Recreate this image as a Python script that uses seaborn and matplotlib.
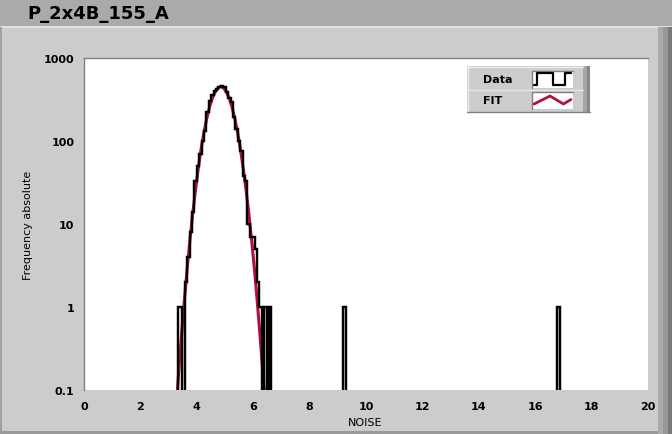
import numpy as np
import matplotlib
matplotlib.use("Agg")
import matplotlib.pyplot as plt
from matplotlib.patches import Rectangle
import seaborn as sns

# ---------------- data ----------------
title = "P_2x4B_155_A"
x_label = "NOISE"
y_label = "Frequency absolute"

# histogram: left edge of each non-empty bin and its count
bin_left = [3.321, 3.406, 3.577, 3.662, 3.747, 3.832, 3.917, 4.003, 4.088,
            4.173, 4.258, 4.343, 4.429, 4.514, 4.599, 4.684, 4.769, 4.855,
            4.940, 5.025, 5.110, 5.195, 5.281, 5.366, 5.451, 5.536, 5.621,
            5.707, 5.792, 5.877, 5.962, 6.047, 6.133, 6.218, 6.388, 6.559,
            9.200, 16.783]
counts = [1, 1, 2, 4, 8, 14, 33, 50, 70,
          100, 133, 223, 305, 360, 400, 424, 450, 465,
          445, 386, 330, 292, 193, 139, 100, 76, 38,
          33, 10, 7, 7, 5, 2, 1, 1, 1,
          1, 1]
bin_width = 0.0852

# Gaussian fit curve (read values)
fit_x = [3.25, 3.35, 3.45, 3.55, 3.65, 3.75, 3.85, 3.95, 4.05, 4.15, 4.25, 4.35,
         4.45, 4.55, 4.65, 4.75, 4.85, 4.95, 5.05, 5.15, 5.25, 5.35, 5.45,
         5.55, 5.65, 5.75, 5.85, 5.95, 6.05, 6.15, 6.25, 6.35, 6.45]
fit_y = [0.05, 0.15, 0.42, 1.1, 2.7, 6.1, 12.9, 25, 46, 79, 125, 185,
         255, 327, 390, 434, 455, 434, 390, 327, 255, 185, 125,
         79, 46, 25, 12.9, 6.1, 2.7, 1.1, 0.42, 0.15, 0.05]

x_ticks = [0, 2, 4, 6, 8, 10, 12, 14, 16, 18, 20]
y_ticks = [0.1, 1, 10, 100, 1000]
y_tick_labels = ["0.1", "1", "10", "100", "1000"]
legend_labels = ["Data", "FIT"]

# ---------------- style ----------------
sns.set_style("white")
plt.rcParams["font.family"] = ["DejaVu Sans"]

W, H = 672, 435
fig = plt.figure(figsize=(W / 100, H / 100), dpi=100)
fig.patch.set_facecolor("#cccccc")

# background / frame decoration (pixel coordinates)
bg = fig.add_axes([0, 0, 1, 1], zorder=0)
bg.set_xlim(0, W)
bg.set_ylim(H, 0)
bg.axis("off")
bg.add_patch(Rectangle((0, 0), W, 27, facecolor="#aaaaaa", edgecolor="none"))
bg.add_patch(Rectangle((0, 27), W, 1.5, facecolor="#e0e0e0", edgecolor="none"))
bg.add_patch(Rectangle((0, 28), 1.5, 404, facecolor="#a0a0a0", edgecolor="none"))
bg.add_patch(Rectangle((0, 432), W, 3, facecolor="#9a9a9a", edgecolor="none"))
bg.add_patch(Rectangle((658, 28), 5, 407, facecolor="#ababab", edgecolor="none"))
bg.add_patch(Rectangle((663, 28), 5, 407, facecolor="#999999", edgecolor="none"))
bg.add_patch(Rectangle((668, 28), 4, 407, facecolor="#7a7a7a", edgecolor="none"))
bg.text(27, 14, title, fontsize=13, fontweight="bold", ha="left", va="center",
        color="black")
bg.text(28, 225, y_label, fontsize=8, rotation=90, ha="center", va="center",
        color="black")
bg.text(365.5, 423, x_label, fontsize=8, ha="center", va="center", color="black")

# main plot axes
left, right, top, bottom = 84, 648, 59, 391
ax = fig.add_axes([left / W, 1 - bottom / H, (right - left) / W, (bottom - top) / H],
                  zorder=1)
ax.set_facecolor("white")

edges = [round(3.321 + k * bin_width, 4) for k in range(-1, 163)]
centers = [b + bin_width / 2 for b in bin_left]

sns.lineplot(x=fit_x, y=fit_y, color="#b5103c", linewidth=2.2, ax=ax,
             estimator=None, sort=False, zorder=2)
sns.histplot(x=centers, weights=counts, bins=edges, element="step", fill=False,
             color="black", linewidth=1.75, ax=ax, zorder=3)
for ln in ax.lines:
    ln.set_solid_joinstyle("miter")

ax.set_yscale("log")
ax.set_xlim(0, 20)
ax.set_ylim(0.1, 1000)
ax.set_xticks(x_ticks)
ax.set_xticklabels([str(t) for t in x_ticks])
ax.set_yticks(y_ticks)
ax.set_yticklabels(y_tick_labels)
ax.minorticks_off()
ax.set_xlabel("")
ax.set_ylabel("")
ax.tick_params(axis="both", direction="out", length=4, width=1, color="black",
               labelsize=8, labelcolor="black")
ax.tick_params(axis="x", pad=4)
ax.tick_params(axis="y", pad=3)
for lab in ax.get_xticklabels() + ax.get_yticklabels():
    lab.set_fontweight("bold")
for s in ["right", "bottom"]:
    ax.spines[s].set_visible(False)
for s in ["top", "left"]:
    ax.spines[s].set_color("#808080")
    ax.spines[s].set_linewidth(1)
ax.grid(False)

# legend (drawn in pixel coordinates on an overlay)
ov = fig.add_axes([0, 0, 1, 1], zorder=3)
ov.set_xlim(0, W)
ov.set_ylim(H, 0)
ov.axis("off")
ov.patch.set_alpha(0)
ov.add_patch(Rectangle((467, 67), 116, 46, facecolor="#cccccc", edgecolor="none"))
ov.add_patch(Rectangle((583, 67), 4, 46, facecolor="#a6a6a6", edgecolor="none"))
ov.add_patch(Rectangle((587, 67), 3, 46, facecolor="#888888", edgecolor="none"))
ov.plot([467, 583], [67.5, 67.5], color="#eeeeee", lw=1)
ov.plot([467.5, 467.5], [67, 113], color="#eeeeee", lw=1)
ov.plot([467, 590], [112.5, 112.5], color="#808080", lw=1)
ov.plot([467, 583], [90.5, 90.5], color="#e6e6e6", lw=1)
for y0, y1 in [(71.5, 88.5), (92.5, 110)]:
    ov.add_patch(Rectangle((531.5, y0), 41, y1 - y0, facecolor="white",
                           edgecolor="none"))
    ov.plot([531.5, 572.5], [y0, y0], color="#808080", lw=1)
    ov.plot([531.5, 531.5], [y0, y1], color="#808080", lw=1)
ov.plot([534, 537, 537, 553, 553, 565, 565, 571],
        [86, 86, 74, 74, 86, 86, 74, 74], color="black", lw=1.6)
ov.plot([534, 550, 563.5, 571], [105, 97, 105, 100.5], color="#b5103c", lw=2)
ov.text(482.5, 80, legend_labels[0], fontsize=8, fontweight="bold",
        ha="left", va="center", color="black")
ov.text(482.5, 101.5, legend_labels[1], fontsize=8, fontweight="bold",
        ha="left", va="center", color="black")

fig.savefig("out.png", dpi=100, facecolor=fig.get_facecolor())
